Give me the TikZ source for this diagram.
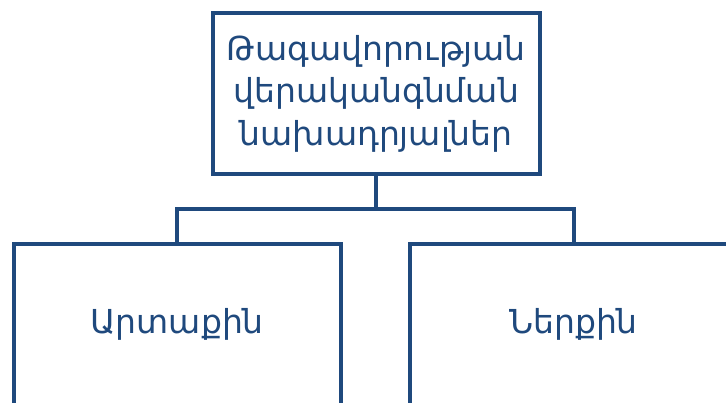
\documentclass[tikz,border=0pt]{standalone}
\usepackage{fontspec}
\newfontfamily\armfont{DejaVu Sans}
\definecolor{navy}{HTML}{1F497D}
\begin{document}
\begin{tikzpicture}[x=1pt,y=-1pt,
  box/.style={draw=navy, line width=4pt, fill=white, minimum width=327pt, minimum height=161pt, inner sep=0pt, outer sep=0pt, align=center, text=navy, font=\armfont\fontsize{33}{42.5}\selectfont},
  link/.style={draw=navy, line width=4pt}]
\useasboundingbox (0,0) rectangle (726,403);
\clip (0,0) rectangle (726,403);
\node[box] (top) at (376.2,93.5) {Թագավորության\\վերականգնման\\նախադրյալներ};
\node[box] (left) at (177.2,324.3) {Արտաքին};
\node[box] (right) at (573.5,324.3) {Ներքին};
\coordinate (j) at (376.2,209);
\draw[link] (top.south) -- (j);
\draw[link] (j) -| (left.north);
\draw[link] (j) -| (right.north);
\end{tikzpicture}
\end{document}
